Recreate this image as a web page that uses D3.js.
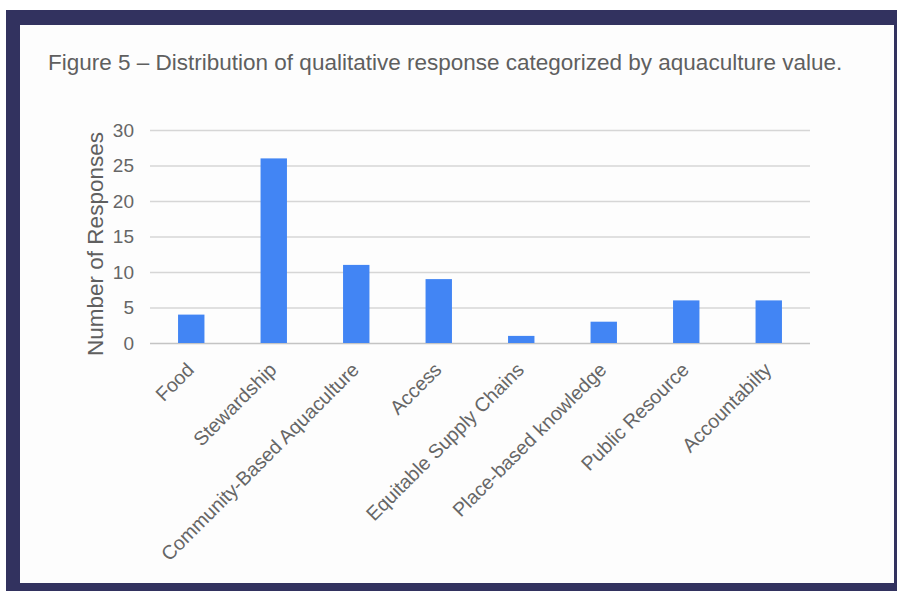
<!DOCTYPE html>
<html>
<head>
<meta charset="utf-8">
<script src="https://cdn.jsdelivr.net/npm/d3@7"></script>
<style>
  html, body { margin: 0; padding: 0; background: #ffffff; }
  svg { display: block; }
</style>
</head>
<body>
<svg id="chart" width="897" height="591"></svg>
<script>
const categories = ["Food", "Stewardship", "Community-Based Aquaculture", "Access",
  "Equitable Supply Chains", "Place-based knowledge", "Public Resource", "Accountabilty"];
const responses = [4, 26, 11, 9, 1, 3, 6, 6];
const yTicks = [0, 5, 10, 15, 20, 25, 30];
const titleText = "Figure 5 \u2013 Distribution of qualitative response categorized by aquaculture value.";
const yAxisTitle = "Number of Responses";

const svg = d3.select("#chart");
const font = "'Liberation Sans', Arial, Helvetica, sans-serif";

// frame
svg.append("rect").attr("x", 6).attr("y", 10).attr("width", 891).attr("height", 581).attr("fill", "#32325f");
svg.append("rect").attr("x", 20).attr("y", 25).attr("width", 874).attr("height", 558).attr("fill", "#fdfdfd");

// title
svg.append("text")
  .attr("x", 48).attr("y", 70)
  .attr("font-family", font).attr("font-size", 22.5)
  .attr("fill", "#5f5f5f")
  .text(titleText);

const x = d3.scaleBand().domain(categories).range([150, 810]).paddingInner(0.68).paddingOuter(0.34);
const y = d3.scaleLinear().domain([0, 30]).range([343, 130]);

// gridlines
const grid = svg.append("g").attr("transform", "translate(150,0)")
  .call(d3.axisLeft(y).tickValues(yTicks).tickSize(-660).tickFormat(""));
grid.select(".domain").remove();
grid.selectAll(".tick line").attr("stroke", d => d === 0 ? "#c4c4c4" : "#d6d6d6").attr("stroke-width", 1.3);

// y tick labels
const yAxis = svg.append("g").attr("transform", "translate(134,0)")
  .call(d3.axisLeft(y).tickValues(yTicks).tickSize(0).tickPadding(0));
yAxis.select(".domain").remove();
yAxis.selectAll("text").attr("font-family", font).attr("font-size", 19).attr("fill", "#666");

// bars
svg.append("g").selectAll("rect").data(categories).join("rect")
  .attr("x", d => x(d))
  .attr("width", x.bandwidth())
  .attr("y", (d, i) => y(responses[i]))
  .attr("height", (d, i) => y(0) - y(responses[i]))
  .attr("fill", "#4285f4");

// x labels
const xAxis = svg.append("g").attr("transform", "translate(0,343)")
  .call(d3.axisBottom(x).tickSize(0).tickPadding(0));
xAxis.select(".domain").remove();
xAxis.selectAll("text")
  .attr("font-family", font).attr("font-size", 19.6).attr("fill", "#666")
  .attr("text-anchor", "end")
  .attr("dy", 0).attr("y", 0)
  .attr("transform", "translate(4,28) rotate(-45)");

// y axis title
svg.append("text")
  .attr("transform", "translate(103,244) rotate(-90)")
  .attr("text-anchor", "middle")
  .attr("font-family", font).attr("font-size", 22.5)
  .attr("fill", "#5f5f5f")
  .text(yAxisTitle);
</script>
</body>
</html>
